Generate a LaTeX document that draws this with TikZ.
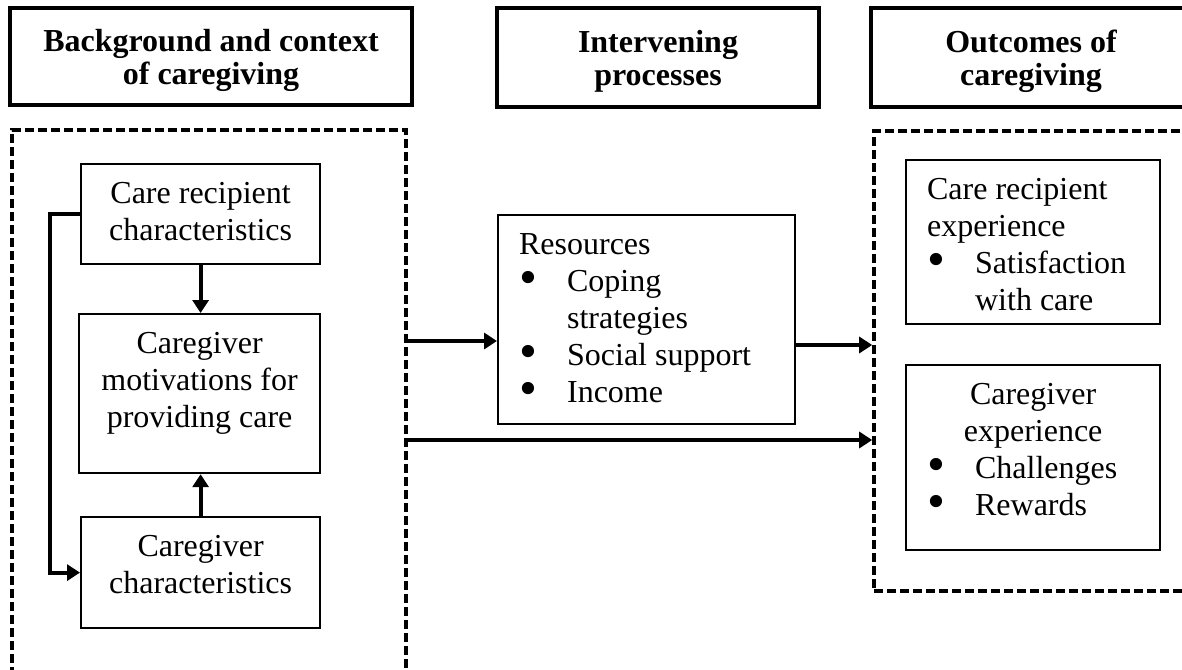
\documentclass[tikz,border=0pt]{standalone}
\usepackage{fontspec}
\setmainfont{Liberation Serif}
\usetikzlibrary{arrows.meta}

\newcommand{\bodyfont}{\fontsize{16pt}{18.5pt}\selectfont}
\newcommand{\headfont}{\fontsize{16pt}{16.5pt}\selectfont\bfseries}
\newcommand{\ctext}[3]{\parbox[c][#2][t]{#1}{\centering\strut#3}}
\newcommand{\ltext}[3]{\parbox[c][#2][t]{#1}{\raggedright\strut#3}}
\newcommand{\bitem}{\makebox[24pt][l]{\raisebox{-1.3pt}[0pt][0pt]{\scalebox{1.6}{\textbullet}}}}
\newcommand{\bskip}{\hspace*{24pt}}

\begin{document}
\begin{tikzpicture}[x=0.5pt,y=-0.5pt,
    headbox/.style={draw, line width=1.7pt, inner sep=0pt, align=center, text depth=0pt, font=\headfont},
    dashframe/.style={draw, line width=1.8pt, dash pattern=on 4.5pt off 2pt, inner sep=0pt},
    inbox/.style={draw, line width=1.1pt, inner xsep=4pt, inner ysep=6.9pt, anchor=north west, font=\bodyfont},
    listbox/.style={inbox, inner xsep=10.5pt},
    arr/.style={line width=2pt, -{Triangle[length=6.5pt,width=8pt]}}]

    \clip (0,0) rectangle (1182,669);

    % Kopfzeilen
    \node[headbox, minimum width=201pt, minimum height=48.5pt] (bghead) at (211,56.5) {Background and context\\of caregiving};
    \node[headbox, minimum width=161pt, minimum height=49.5pt] (ivhead) at (658,57.5) {Intervening\\processes};
    \node[headbox, minimum width=160pt, minimum height=49.5pt] (outhead) at (1031,57.5) {Outcomes of\\caregiving};

    % Gestrichelte Rahmen
    \node[dashframe, minimum width=197pt, minimum height=280pt] (bgframe) at (209,410) {};
    \node[dashframe, minimum width=163pt, minimum height=230pt] (outframe) at (1037,361) {};

    % Kaesten links
    \node[inbox] (recip) at (80,163) {\ctext{111.5pt}{36.2pt}{Care recipient\\characteristics}};
    \node[inbox] (motiv) at (78,313) {\ctext{112.5pt}{65.7pt}{Caregiver\\motivations for\\providing care}};
    \node[inbox] (cgchar) at (80,516) {\ctext{111.5pt}{41.7pt}{Caregiver\\characteristics}};

    % Ressourcen
    \node[listbox] (res) at (497,214) {\ltext{127.5pt}{90.7pt}{Resources\\\bitem Coping\\\bskip strategies\\\bitem Social support\\\bitem Income}};

    % Kaesten rechts
    \node[listbox] (recexp) at (905,159) {\ltext{106pt}{68.2pt}{Care recipient\\experience\\\bitem Satisfaction\\\bskip with care}};
    \node[listbox] (cgexp) at (905,364) {\ctext{106pt}{78.7pt}{Caregiver\\experience\par\raggedright\bitem Challenges\\\bitem Rewards}};

    % Pfeile
    \draw[arr] (recip.south) -- (recip.south |- motiv.north);
    \draw[arr] (cgchar.north) -- (cgchar.north |- motiv.south);
    \draw[arr] (recip.west) -- ++(-30,0) |- (cgchar.west);

    \coordinate (inrow) at (0,341);
    \coordinate (outrow) at (0,345);
    \coordinate (directrow) at (0,440);
    \draw[arr] (bgframe.east |- inrow) -- (res.west |- inrow);
    \draw[arr] (res.east |- outrow) -- (outframe.west |- outrow);
    \draw[arr] (bgframe.east |- directrow) -- (outframe.west |- directrow);

\end{tikzpicture}
\end{document}
